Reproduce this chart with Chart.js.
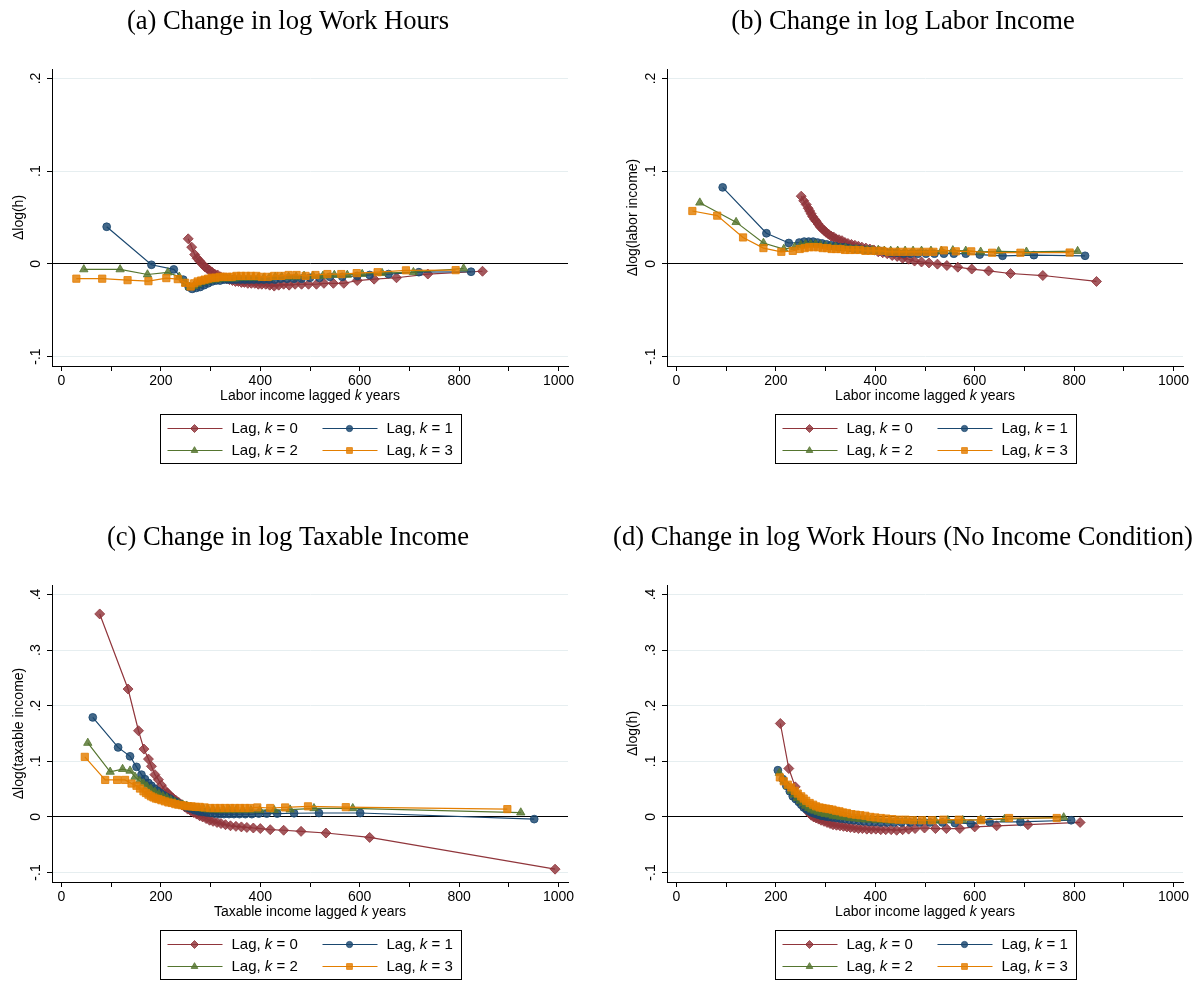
<!DOCTYPE html>
<html>
<head>
<meta charset="utf-8">
<title>Change in log outcomes by lagged income</title>
<script src="https://cdn.jsdelivr.net/npm/chart.js@4.4.0/dist/chart.umd.min.js"></script>
<style>
  body { margin: 0; background: #fff; }
  #page { position: relative; width: 1201px; height: 981px; background: #fff; }
  #page canvas { position: absolute; }
</style>
</head>
<body>
<div id="page">
  <canvas id="panelA" width="600" height="490" style="left:0;top:0"></canvas>
  <canvas id="panelB" width="601" height="490" style="left:600px;top:0"></canvas>
  <canvas id="panelC" width="600" height="491" style="left:0;top:490px"></canvas>
  <canvas id="panelD" width="601" height="491" style="left:600px;top:490px"></canvas>
</div>
<script>
// lags shown in every panel
const lagLabels = ["0", "1", "2", "3"];

// tick values
const xTickValues = [0, 100, 200, 300, 400, 500, 600, 700, 800, 900, 1000];
const yTicksTop = [-0.1, 0, 0.1, 0.2];
const yTicksBottom = [-0.1, 0, 0.1, 0.2, 0.3, 0.4];

// (a) change in log work hours
const hoursX0 = [255, 262, 268, 273, 278, 283, 288, 293, 298, 303, 308, 314, 320, 326, 332, 338, 344, 350, 356, 362, 368, 375, 382, 389, 396, 403, 411, 419, 428, 437, 447, 458, 470, 483, 497, 513, 528, 547, 568, 595, 629, 674, 737, 847];
const hoursY0 = [0.027, 0.018, 0.010, 0.006, 0.003, 0.000, -0.003, -0.005, -0.007, -0.009, -0.011, -0.012, -0.014, -0.015, -0.016, -0.017, -0.018, -0.019, -0.019, -0.020, -0.020, -0.021, -0.021, -0.021, -0.022, -0.022, -0.022, -0.023, -0.024, -0.023, -0.022, -0.023, -0.022, -0.022, -0.022, -0.022, -0.021, -0.021, -0.021, -0.018, -0.0165, -0.015, -0.011, -0.008];
const hoursX1 = [91, 181, 226, 245, 256, 263, 271, 279, 287, 295, 303, 311, 319, 327, 335, 343, 351, 360, 369, 378, 387, 397, 407, 418, 429, 441, 454, 468, 483, 500, 519, 540, 565, 595, 620, 658, 719, 824];
const hoursY1 = [0.040, -0.001, -0.006, -0.017, -0.025, -0.027, -0.026, -0.025, -0.023, -0.021, -0.019, -0.018, -0.018, -0.017, -0.017, -0.017, -0.017, -0.017, -0.017, -0.017, -0.017, -0.017, -0.017, -0.017, -0.017, -0.016, -0.016, -0.016, -0.016, -0.015, -0.015, -0.014, -0.014, -0.013, -0.012, -0.011, -0.009, -0.0085];
const hoursX2 = [45, 118, 173, 214, 237, 250, 258, 266, 274, 282, 290, 298, 306, 314, 322, 330, 339, 348, 357, 366, 376, 386, 396, 407, 418, 430, 443, 457, 472, 488, 506, 526, 549, 575, 605, 645, 708, 809];
const hoursY2 = [-0.006, -0.006, -0.0115, -0.0093, -0.014, -0.021, -0.025, -0.024, -0.022, -0.020, -0.019, -0.018, -0.017, -0.017, -0.016, -0.016, -0.016, -0.016, -0.015, -0.015, -0.015, -0.015, -0.015, -0.015, -0.015, -0.014, -0.014, -0.014, -0.014, -0.013, -0.013, -0.013, -0.012, -0.012, -0.011, -0.010, -0.009, -0.005];
const hoursX3 = [30, 82, 133, 175, 211, 234, 249, 260, 267, 274, 281, 288, 295, 302, 310, 318, 326, 334, 343, 352, 361, 371, 381, 392, 403, 415, 428, 442, 457, 473, 491, 511, 535, 563, 594, 636, 693, 793];
const hoursY3 = [-0.016, -0.016, -0.0176, -0.0187, -0.0154, -0.0165, -0.0205, -0.0245, -0.021, -0.019, -0.018, -0.017, -0.016, -0.015, -0.015, -0.014, -0.014, -0.014, -0.014, -0.013, -0.013, -0.013, -0.013, -0.013, -0.014, -0.014, -0.013, -0.013, -0.012, -0.012, -0.013, -0.012, -0.011, -0.011, -0.010, -0.009, -0.007, -0.0068];

// (b) change in log labor income
const laborX0 = [251, 256, 261, 265, 268, 271, 274, 278, 281, 285, 289, 293, 297, 301, 306, 311, 316, 321, 327, 333, 339, 345, 352, 359, 366, 373, 381, 389, 397, 406, 415, 424, 434, 444, 455, 467, 479, 493, 508, 525, 544, 566, 594, 628, 672, 737, 845];
const laborY0 = [0.073, 0.068, 0.064, 0.060, 0.057, 0.054, 0.051, 0.048, 0.046, 0.043, 0.040, 0.038, 0.036, 0.034, 0.032, 0.030, 0.029, 0.027, 0.026, 0.025, 0.023, 0.022, 0.021, 0.020, 0.019, 0.018, 0.017, 0.016, 0.015, 0.013, 0.012, 0.011, 0.009, 0.008, 0.006, 0.005, 0.003, 0.002, 0.001, -0.0003, -0.0018, -0.0036, -0.0056, -0.0076, -0.0104, -0.0126, -0.019];
const laborX1 = [93, 181, 226, 247, 257, 266, 275, 284, 293, 302, 311, 320, 329, 338, 347, 357, 367, 377, 387, 398, 409, 420, 432, 444, 457, 471, 486, 502, 519, 538, 558, 582, 610, 656, 719, 822];
const laborY1 = [0.0825, 0.033, 0.0225, 0.023, 0.024, 0.024, 0.024, 0.023, 0.022, 0.021, 0.020, 0.019, 0.018, 0.018, 0.017, 0.016, 0.016, 0.015, 0.015, 0.014, 0.014, 0.013, 0.012, 0.012, 0.011, 0.011, 0.011, 0.011, 0.011, 0.011, 0.011, 0.011, 0.010, 0.0087, 0.0094, 0.0087];
const laborX2 = [47, 120, 175, 216, 238, 250, 260, 270, 280, 290, 300, 310, 320, 330, 340, 350, 361, 372, 383, 394, 406, 418, 431, 445, 460, 476, 493, 512, 533, 556, 582, 612, 648, 704, 807];
const laborY2 = [0.066, 0.045, 0.0225, 0.016, 0.018, 0.020, 0.021, 0.021, 0.021, 0.020, 0.019, 0.018, 0.018, 0.017, 0.017, 0.016, 0.016, 0.015, 0.015, 0.015, 0.015, 0.014, 0.014, 0.014, 0.014, 0.014, 0.014, 0.014, 0.014, 0.0145, 0.014, 0.013, 0.0135, 0.013, 0.0137];
const laborX3 = [32, 82, 134, 175, 211, 234, 248, 258, 267, 276, 285, 294, 303, 312, 321, 330, 339, 349, 359, 369, 380, 391, 402, 414, 427, 441, 455, 470, 486, 503, 517, 538, 562, 593, 635, 692, 791];
const laborY3 = [0.057, 0.052, 0.0285, 0.017, 0.013, 0.014, 0.016, 0.017, 0.018, 0.018, 0.018, 0.017, 0.017, 0.016, 0.016, 0.016, 0.015, 0.015, 0.015, 0.015, 0.014, 0.014, 0.014, 0.014, 0.013, 0.013, 0.013, 0.013, 0.013, 0.013, 0.013, 0.0145, 0.0135, 0.0135, 0.012, 0.012, 0.0122];

// (c) change in log taxable income
const taxX0 = [77, 134, 155, 166, 175, 181, 188, 195, 201, 208, 213, 218, 224, 230, 236, 242, 248, 254, 260, 266, 272, 278, 284, 291, 298, 305, 313, 321, 330, 340, 351, 362, 373, 386, 400, 420, 447, 482, 532, 620, 993];
const taxY0 = [0.365, 0.230, 0.155, 0.122, 0.104, 0.091, 0.076, 0.067, 0.057, 0.048, 0.043, 0.039, 0.034, 0.030, 0.026, 0.022, 0.018, 0.014, 0.011, 0.008, 0.005, 0.002, 0.000, -0.003, -0.006, -0.008, -0.010, -0.012, -0.014, -0.016, -0.017, -0.018, -0.019, -0.020, -0.021, -0.023, -0.024, -0.026, -0.029, -0.037, -0.094];
const taxX1 = [63, 114, 138, 151, 161, 168, 175, 181, 187, 193, 199, 205, 211, 218, 225, 232, 239, 246, 253, 260, 268, 276, 284, 292, 300, 309, 318, 327, 337, 347, 358, 370, 383, 397, 413, 434, 468, 518, 601, 951];
const taxY1 = [0.179, 0.125, 0.109, 0.090, 0.076, 0.068, 0.061, 0.056, 0.051, 0.047, 0.043, 0.039, 0.036, 0.033, 0.029, 0.026, 0.023, 0.020, 0.017, 0.015, 0.012, 0.010, 0.009, 0.008, 0.007, 0.006, 0.005, 0.005, 0.005, 0.005, 0.005, 0.005, 0.005, 0.006, 0.006, 0.006, 0.0066, 0.007, 0.007, -0.004];
const taxX2 = [53, 98, 123, 138, 148, 157, 165, 172, 180, 188, 196, 204, 212, 220, 228, 236, 244, 252, 260, 268, 277, 286, 295, 305, 315, 326, 338, 351, 365, 381, 399, 428, 460, 508, 586, 924];
const taxY2 = [0.133, 0.081, 0.086, 0.083, 0.072, 0.065, 0.060, 0.055, 0.050, 0.045, 0.041, 0.037, 0.034, 0.030, 0.027, 0.024, 0.022, 0.020, 0.018, 0.016, 0.015, 0.014, 0.013, 0.013, 0.012, 0.012, 0.012, 0.012, 0.012, 0.012, 0.012, 0.012, 0.013, 0.0155, 0.0155, 0.0078];
const taxX3 = [47, 88, 112, 128, 141, 151, 158, 165, 170, 175, 180, 185, 190, 195, 201, 208, 215, 222, 229, 235, 242, 248, 255, 262, 270, 278, 288, 299, 309, 319, 329, 339, 349, 359, 369, 379, 394, 420, 450, 496, 572, 897];
const taxY3 = [0.108, 0.0665, 0.0665, 0.0665, 0.060, 0.056, 0.051, 0.046, 0.043, 0.040, 0.037, 0.035, 0.033, 0.032, 0.030, 0.028, 0.026, 0.025, 0.023, 0.022, 0.021, 0.020, 0.019, 0.019, 0.018, 0.018, 0.017, 0.016, 0.016, 0.016, 0.016, 0.016, 0.016, 0.016, 0.016, 0.016, 0.017, 0.016, 0.017, 0.019, 0.0175, 0.014];

// (d) change in log work hours, no income condition
const nocondX0 = [209, 226, 239, 248, 255, 261, 266, 271, 276, 281, 286, 291, 297, 303, 309, 315, 322, 329, 336, 343, 350, 358, 366, 374, 383, 392, 401, 411, 421, 432, 443, 455, 467, 480, 499, 521, 543, 570, 600, 644, 707, 812];
const nocondY0 = [0.168, 0.087, 0.054, 0.037, 0.025, 0.015, 0.008, 0.003, 0.000, -0.002, -0.004, -0.006, -0.008, -0.010, -0.012, -0.014, -0.015, -0.016, -0.017, -0.018, -0.019, -0.020, -0.021, -0.021, -0.022, -0.022, -0.022, -0.023, -0.023, -0.023, -0.024, -0.023, -0.022, -0.021, -0.020, -0.021, -0.021, -0.021, -0.018, -0.016, -0.014, -0.010];
const nocondX1 = [204, 214, 221, 228, 234, 240, 246, 251, 256, 261, 266, 272, 278, 285, 292, 299, 306, 314, 322, 330, 339, 348, 357, 367, 377, 388, 399, 411, 424, 438, 453, 470, 489, 510, 535, 560, 592, 630, 692, 794];
const nocondY1 = [0.084, 0.068, 0.056, 0.046, 0.037, 0.032, 0.027, 0.022, 0.017, 0.014, 0.011, 0.008, 0.006, 0.004, 0.002, 0.001, 0.000, -0.001, -0.002, -0.003, -0.004, -0.005, -0.006, -0.007, -0.008, -0.009, -0.009, -0.010, -0.010, -0.010, -0.010, -0.010, -0.010, -0.010, -0.010, -0.011, -0.012, -0.009, -0.009, -0.006];
const nocondX2 = [207, 217, 224, 231, 237, 243, 249, 255, 260, 266, 272, 278, 285, 292, 299, 307, 315, 323, 331, 340, 349, 359, 369, 380, 391, 403, 416, 430, 445, 461, 479, 499, 521, 546, 576, 612, 660, 779];
const nocondY2 = [0.079, 0.064, 0.055, 0.047, 0.040, 0.034, 0.029, 0.024, 0.020, 0.016, 0.013, 0.011, 0.009, 0.007, 0.005, 0.004, 0.002, 0.001, 0.000, -0.001, -0.002, -0.003, -0.004, -0.005, -0.005, -0.006, -0.006, -0.007, -0.007, -0.007, -0.007, -0.007, -0.007, -0.006, -0.006, -0.005, -0.004, -0.001];
const nocondX3 = [208, 216, 224, 231, 238, 244, 251, 256, 261, 268, 275, 281, 288, 294, 301, 307, 314, 321, 328, 335, 343, 352, 361, 370, 380, 390, 400, 411, 422, 434, 447, 461, 476, 494, 514, 537, 568, 613, 669, 765];
const nocondY3 = [0.071, 0.064, 0.058, 0.053, 0.047, 0.042, 0.037, 0.033, 0.029, 0.025, 0.022, 0.019, 0.017, 0.016, 0.015, 0.014, 0.013, 0.011, 0.010, 0.008, 0.007, 0.005, 0.004, 0.003, 0.002, 0.000, -0.001, -0.002, -0.003, -0.004, -0.005, -0.005, -0.006, -0.006, -0.006, -0.005, -0.005, -0.006, -0.002, -0.002];

// styling (stata s2color)
const lagColors = ["#90353b", "#1a476f", "#55752f", "#e37e00"];
const lagFills = ["rgba(144,53,59,0.82)", "rgba(26,71,111,0.82)", "rgba(85,117,47,0.82)", "rgba(227,126,0,0.82)"];
const lagMarkers = ["rectRot", "circle", "triangle", "rect"];
const lagMarkerSizes = [5, 3.9, 4.8, 5.1];

const sansFont = '"Liberation Sans", Arial, sans-serif';
const serifFont = '"Liberation Serif", "Times New Roman", serif';

function formatY(v) {
    if (v === 0) return "0";
    return String(v).replace("0.", ".");
}

function buildDatasets(xs, ys) {
    return xs.map((xArr, k) => ({
        label: "Lag, k = " + lagLabels[k],
        data: xArr.map((x, i) => ({ x: x, y: ys[k][i] })),
        showLine: true,
        borderColor: lagColors[k],
        borderWidth: 1.2,
        backgroundColor: lagFills[k],
        pointBackgroundColor: lagFills[k],
        pointBorderColor: lagFills[k],
        pointBorderWidth: 1,
        pointStyle: lagMarkers[k],
        pointRadius: lagMarkerSizes[k],
        order: 3 - k,
    }));
}

// draws text pieces, some in italics, starting at x (or centred on x)
function drawRich(ctx, parts, x, y, size, centred) {
    let total = 0;
    parts.forEach((p) => {
        ctx.font = (p[1] ? "italic " : "") + size + "px " + sansFont;
        total += ctx.measureText(p[0]).width;
    });
    let cx = centred ? x - total / 2 : x;
    ctx.textAlign = "left";
    ctx.textBaseline = "middle";
    parts.forEach((p) => {
        ctx.font = (p[1] ? "italic " : "") + size + "px " + sansFont;
        ctx.fillText(p[0], cx, y);
        cx += ctx.measureText(p[0]).width;
    });
}

const stataPanel = {
    id: "stataPanel",
    afterDraw(chart, args, opts) {
        const ctx = chart.ctx;
        const area = chart.chartArea;
        const yScale = chart.scales.y;
        const midX = (area.left + area.right) / 2;
        ctx.save();
        ctx.fillStyle = "#000";

        // vertical y tick labels
        ctx.font = "14px " + sansFont;
        ctx.textAlign = "center";
        ctx.textBaseline = "middle";
        yScale.ticks.forEach((t) => {
            ctx.save();
            ctx.translate(area.left - 16, yScale.getPixelForValue(t.value));
            ctx.rotate(-Math.PI / 2);
            ctx.fillText(formatY(t.value), 0, 0);
            ctx.restore();
        });

        // panel title
        ctx.font = "26.6px " + serifFont;
        ctx.fillText(opts.title, midX - 22, area.top - 47);

        // x axis title
        drawRich(ctx, [[opts.xTitle + " ", false], ["k", true], [" years", false]], midX, area.bottom + 30, 14, true);

        // legend box
        const boxW = 301, boxH = 49;
        const boxL = Math.round(midX - boxW / 2) + 0.5;
        const boxT = Math.round(area.bottom + 48) + 0.5;
        ctx.strokeStyle = "#000";
        ctx.lineWidth = 1;
        ctx.strokeRect(boxL, boxT, boxW, boxH);
        chart.data.datasets.forEach((ds, k) => {
            const col = k % 2;
            const row = Math.floor(k / 2);
            const lx = boxL + 7 + col * 155;
            const ly = boxT + 14 + row * 22;
            ctx.strokeStyle = ds.borderColor;
            ctx.lineWidth = 1.2;
            ctx.beginPath();
            ctx.moveTo(lx, ly);
            ctx.lineTo(lx + 55, ly);
            ctx.stroke();
            ctx.fillStyle = ds.pointBackgroundColor;
            ctx.strokeStyle = ds.pointBorderColor;
            ctx.lineWidth = 1;
            Chart.helpers.drawPoint(ctx, {
                pointStyle: ds.pointStyle,
                rotation: 0,
                radius: ds.pointRadius * 0.8,
                borderWidth: 1,
            }, lx + 27, ly);
            ctx.fillStyle = "#000";
            drawRich(ctx, [["Lag, ", false], ["k", true], [" = " + lagLabels[k], false]], lx + 64, ly, 15, false);
        });
        ctx.restore();
    },
};

function makePanel(canvasId, cfg) {
    const ctx = document.getElementById(canvasId);
    return new Chart(ctx, {
        type: "scatter",
        data: { datasets: buildDatasets(cfg.xs, cfg.ys) },
        options: {
            responsive: false,
            animation: false,
            devicePixelRatio: 1,
            layout: { padding: cfg.padding },
            plugins: {
                legend: { display: false },
                tooltip: { enabled: false },
                stataPanel: { title: cfg.title, xTitle: cfg.xTitle },
            },
            scales: {
                x: {
                    type: "linear",
                    min: -19,
                    max: 1019,
                    afterBuildTicks: (s) => {
                        s.ticks = xTickValues.map((v) => ({ value: v }));
                    },
                    afterFit: (s) => {
                        s.height = 30;
                        s.paddingLeft = 0;
                        s.paddingRight = 0;
                    },
                    ticks: {
                        autoSkip: false,
                        maxRotation: 0,
                        minRotation: 0,
                        padding: 2,
                        color: "#000",
                        font: { family: sansFont, size: 14 },
                        callback: (v) => (v % 200 === 0 ? String(v) : ""),
                    },
                    grid: { drawOnChartArea: false, drawTicks: true, tickLength: 5, tickColor: "#000" },
                    border: { display: true, color: "#000", width: 1 },
                },
                y: {
                    type: "linear",
                    min: cfg.yMin,
                    max: cfg.yMax,
                    afterBuildTicks: (s) => {
                        s.ticks = cfg.yTicks.map((v) => ({ value: v }));
                    },
                    afterFit: (s) => {
                        s.width = cfg.yWidth;
                        s.paddingTop = 0;
                        s.paddingBottom = 0;
                    },
                    ticks: { display: false },
                    grid: {
                        color: (c) => (c.tick && c.tick.value === 0 ? "#000" : "#e6eef0"),
                        lineWidth: 1,
                        drawTicks: true,
                        tickLength: 5,
                        tickColor: "#000",
                    },
                    border: { display: true, color: "#000", width: 1 },
                    title: {
                        display: true,
                        text: cfg.yTitle,
                        color: "#000",
                        font: { family: sansFont, size: 14 },
                        padding: { top: 11, bottom: 0 },
                    },
                },
            },
        },
        plugins: [stataPanel],
    });
}

makePanel("panelA", {
    title: "(a) Change in log Work Hours",
    xTitle: "Labor income lagged",
    yTitle: "\u0394log(h)",
    xs: [hoursX0, hoursX1, hoursX2, hoursX3],
    ys: [hoursY0, hoursY1, hoursY2, hoursY3],
    yMin: -0.1102, yMax: 0.2102, yTicks: yTicksTop,
    yWidth: 52,
    padding: { left: 0, right: 32, top: 69, bottom: 94 },
});

makePanel("panelB", {
    title: "(b) Change in log Labor Income",
    xTitle: "Labor income lagged",
    yTitle: "\u0394log(labor income)",
    xs: [laborX0, laborX1, laborX2, laborX3],
    ys: [laborY0, laborY1, laborY2, laborY3],
    yMin: -0.1102, yMax: 0.2102, yTicks: yTicksTop,
    yWidth: 53,
    padding: { left: 14, right: 18, top: 69, bottom: 94 },
});

makePanel("panelC", {
    title: "(c) Change in log Taxable Income",
    xTitle: "Taxable income lagged",
    yTitle: "\u0394log(taxable income)",
    xs: [taxX0, taxX1, taxX2, taxX3],
    ys: [taxY0, taxY1, taxY2, taxY3],
    yMin: -0.1171, yMax: 0.4171, yTicks: yTicksBottom,
    yWidth: 52,
    padding: { left: 0, right: 32, top: 95, bottom: 69 },
});

makePanel("panelD", {
    title: "(d) Change in log Work Hours (No Income Condition)",
    xTitle: "Labor income lagged",
    yTitle: "\u0394log(h)",
    xs: [nocondX0, nocondX1, nocondX2, nocondX3],
    ys: [nocondY0, nocondY1, nocondY2, nocondY3],
    yMin: -0.1171, yMax: 0.4171, yTicks: yTicksBottom,
    yWidth: 53,
    padding: { left: 14, right: 18, top: 95, bottom: 69 },
});
</script>
</body>
</html>
